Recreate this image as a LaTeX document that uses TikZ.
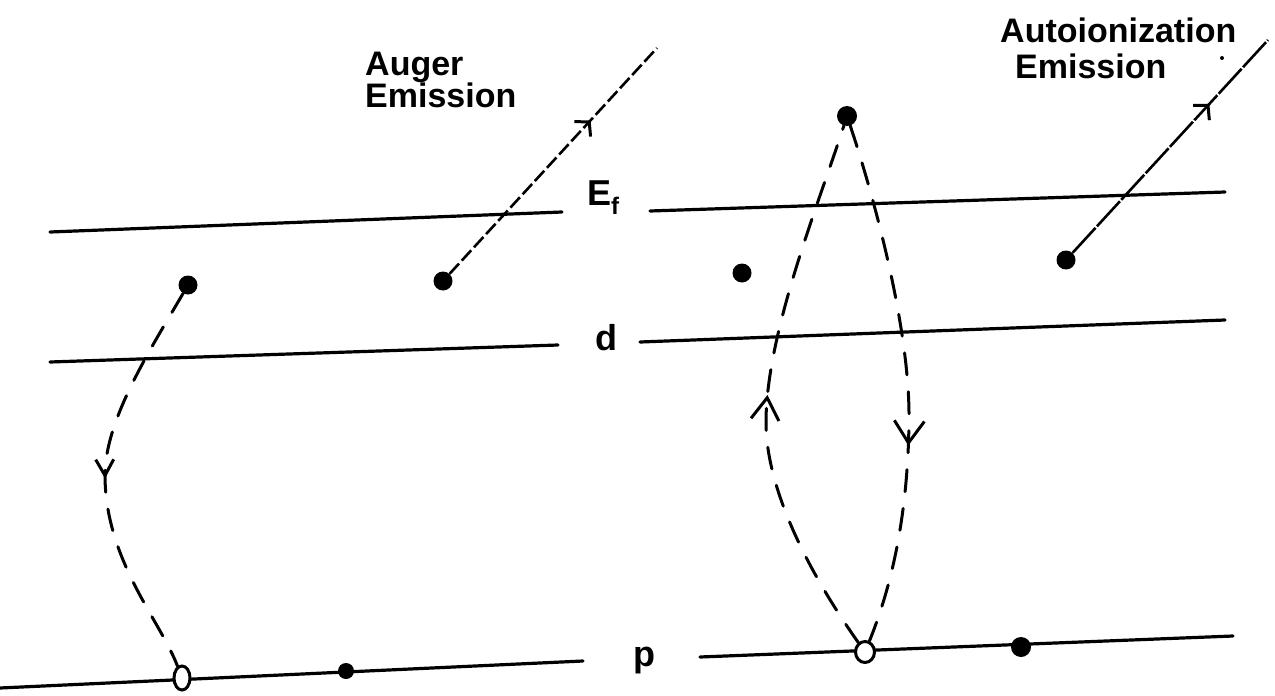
\documentclass[tikz,border=0pt]{standalone}
\usepackage{fontspec}
\setmainfont{Liberation Sans}
\usetikzlibrary{arrows.meta,decorations.markings,shapes.geometric}
\begin{document}
\begin{tikzpicture}[x=1pt,y=-1pt,
  level/.style={line width=3.2pt,line cap=round},
  dot/.style={circle,fill=black,inner sep=0pt,minimum size=#1},
  dot/.default=19pt,
  hole/.style={ellipse,draw,fill=white,line width=3pt,inner sep=0pt,minimum width=#1},
  lbl/.style={font=\fontsize{34}{38}\selectfont\bfseries,inner sep=0pt,anchor=base west},
  big/.style={font=\fontsize{36}{40}\selectfont\bfseries,inner sep=0pt,anchor=base west},
  trans/.style={line width=3pt,line cap=round,dash pattern=on 22pt off 17pt},
  augerline/.style={line width=2.6pt,dash pattern=on 14pt off 4pt},
  autoline/.style={line width=2.6pt,dash pattern=on 34pt off 2pt},
  arrowat/.style 2 args={postaction={decorate},
    decoration={markings,mark=at position #1 with {\arrow[line width=3pt,line cap=round]{#2}}}}
]
\useasboundingbox (0,0) rectangle (1275,696);

% energy levels
\draw[level] (50,232) -- (562,212);
\draw[level] (650,211) -- (1225,192);
\draw[level] (50,362) -- (558,345);
\draw[level] (640,342) -- (1225,320);
\draw[level] (0,688) -- (583,661);
\draw[level] (700,657) -- (1233,636);

% level labels
\node[big] (ef) at (587,205) {E\raisebox{-9pt}{\fontsize{24}{26}\selectfont f}};
\node[big] (dl) at (595,350) {d};
\node[big] (pl) at (633,666) {p};

% titles
\node[lbl] (aug1) at (365,75) {Auger};
\node[lbl] (aug2) at (365,107) {Emission};
\node[lbl] (aut1) at (1000,42) {Autoionization};
\node[lbl] (aut2) at (1015,78) {Emission};
\node[dot=4pt] (speck) at (1222,58) {};

% particles
\node[dot] (a1) at (188,285) {};
\node[dot] (a2) at (443,281) {};
\node[dot] (a3) at (742,273) {};
\node[dot] (a4) at (1066,260) {};
\node[dot=20pt] (top) at (847,116) {};
\node[dot=16pt] (pa) at (346,671) {};
\node[dot=20pt] (pb) at (1021,647) {};
\node[hole=16pt,minimum height=24pt] (h1) at (182,678) {};
\node[hole=19pt,minimum height=21pt] (h2) at (865,652) {};

\coordinate (augend) at (657,48);
\coordinate (autend) at (1268,40);

% emitted electrons
\draw[augerline,arrowat={0.68}{Straight Barb[length=10pt,width=22pt]}] (a2) -- (augend);
\draw[autoline,arrowat={0.70}{Straight Barb[length=10pt,width=22pt]}] (a4) -- (autend);

% transitions
\draw[trans,arrowat={0.5}{Straight Barb[length=16pt,width=18pt]}]
  (a1) .. controls (150,350) and (105,420) .. (105,475)
       .. controls (105,560) and (160,620) .. (h1);
\draw[trans,arrowat={0.49}{Straight Barb[length=22pt,width=28pt]}]
  (h2) .. controls (800,560) and (765,480) .. (766,420)
       .. controls (767,330) and (820,200) .. (top);
\draw[trans,arrowat={0.62}{Straight Barb[length=22pt,width=30pt]}]
  (top) .. controls (875,200) and (910,330) .. (909,420)
        .. controls (908,520) and (890,590) .. (h2);
\end{tikzpicture}
\end{document}
